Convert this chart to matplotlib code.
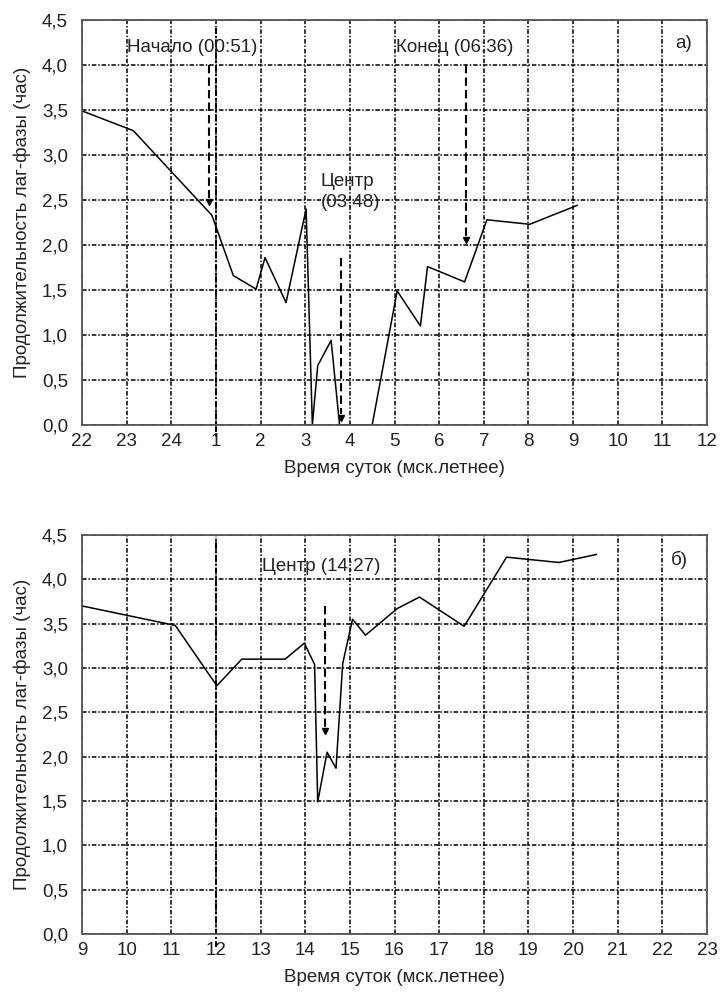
import matplotlib
matplotlib.use("Agg")
import matplotlib.pyplot as plt
from matplotlib.ticker import FixedLocator, FixedFormatter

plt.rcParams['font.family'] = ['Liberation Sans', 'DejaVu Sans']

# ---- data: panel a) (hours continuous from 22 to 36 = 12 next day)
a_hours = [22.0, 23.15, 24.91, 25.39, 25.9, 26.1, 26.57, 27.02, 27.16, 27.28,
           27.58, 27.77, 28.5, 29.06, 29.58, 29.74, 30.57, 31.07, 32.03, 33.09]
a_vals = [3.49, 3.27, 2.33, 1.66, 1.51, 1.86, 1.36, 2.40, 0.0, 0.66,
          0.94, 0.0, 0.0, 1.49, 1.10, 1.76, 1.59, 2.28, 2.23, 2.44]
a_tick_pos = list(range(22, 37))
a_tick_labels = ['22', '23', '24', '1', '2', '3', '4', '5', '6', '7', '8', '9', '10', '11', '12']

# ---- data: panel б)
b_hours = [9.0, 11.09, 12.02, 12.58, 13.55, 13.98, 14.21, 14.28, 14.49, 14.69,
           14.84, 15.06, 15.35, 16.06, 16.56, 17.56, 18.51, 19.68, 20.52]
b_vals = [3.70, 3.48, 2.80, 3.10, 3.10, 3.28, 3.04, 1.49, 2.05, 1.87,
          3.05, 3.55, 3.37, 3.67, 3.80, 3.47, 4.25, 4.19, 4.28]
b_tick_pos = list(range(9, 24))
b_tick_labels = [str(h) for h in range(9, 24)]

y_ticks = [0.0, 0.5, 1.0, 1.5, 2.0, 2.5, 3.0, 3.5, 4.0, 4.5]
y_tick_labels = ['0,0', '0,5', '1,0', '1,5', '2,0', '2,5', '3,0', '3,5', '4,0', '4,5']

# annotations: (hour, y_start, y_end)
a_arrows = [(24.85, 4.0, 2.48), (27.8, 1.86, 0.08), (30.6, 4.0, 2.06)]
b_arrows = [(14.45, 3.70, 2.29)]

xlabel = 'Время суток (мск.летнее)'
ylabel = 'Продолжительность лаг-фазы (час)'

W, H = 720, 996
fig = plt.figure(figsize=(W / 100, H / 100), dpi=100)
ax1 = fig.add_axes([82 / W, (H - 425) / H, 625 / W, 405 / H])
ax2 = fig.add_axes([82 / W, (H - 934) / H, 625 / W, 399 / H])

grid_ls = (0, (3, 1.2, 1, 1.2))
grid_style = dict(color='black', linewidth=1.1, linestyle=grid_ls)
fs = 13.5
tc = '#222222'


def style(ax, xpos, xlabels, x0, x1):
    ax.set_xlim(x0, x1)
    ax.set_ylim(0, 4.5)
    ax.xaxis.set_major_locator(FixedLocator(xpos))
    ax.xaxis.set_major_formatter(FixedFormatter(xlabels))
    ax.yaxis.set_major_locator(FixedLocator(y_ticks))
    ax.yaxis.set_major_formatter(FixedFormatter(y_tick_labels))
    ax.tick_params(length=0, labelsize=fs, colors=tc)
    ax.tick_params(axis='y', pad=10)
    ax.tick_params(axis='x', pad=6)
    ax.grid(True, **grid_style)
    ax.set_axisbelow(True)
    for s in ax.spines.values():
        s.set_color('#555555')
        s.set_linewidth(1.3)
    ax.set_xlabel(xlabel, fontsize=fs, color=tc, labelpad=7)
    ax.set_ylabel(ylabel, fontsize=fs, color=tc, labelpad=8)


def arrows(ax, arr):
    for x, y0, y1 in arr:
        ax.plot([x, x], [y0, y1 + 0.04], color='black', lw=1.5, linestyle=(0, (4, 2)))
        ax.plot([x], [y1], marker='v', color='black', markersize=4.5)


style(ax1, a_tick_pos, a_tick_labels, 22, 36)
ax1.plot([25, 25], [4.41, -0.13], color='black', lw=1.4, linestyle=grid_ls, clip_on=False)
ax1.plot(a_hours, a_vals, color='black', lw=1.1, clip_on=True)
arrows(ax1, a_arrows)
ax1.text(23.0, 4.20, 'Начало (00:51)', fontsize=fs, va='center', ha='left', color=tc)
ax1.text(27.35, 2.59, 'Центр\n(03:48)', fontsize=fs, va='center', ha='left', color=tc,
         linespacing=1.3)
ax1.text(29.04, 4.19, 'Конец (06:36)', fontsize=fs, va='center', ha='left', color=tc)
ax1.text(35.3, 4.24, 'а)', fontsize=fs, va='center', ha='left', color=tc)

style(ax2, b_tick_pos, b_tick_labels, 9, 23)
ax2.plot([12, 12], [4.41, -0.15], color='black', lw=1.4, linestyle=grid_ls, clip_on=False)
ax2.plot(b_hours, b_vals, color='black', lw=1.1)
arrows(ax2, b_arrows)
ax2.text(13.03, 4.14, 'Центр (14:27)', fontsize=fs, va='center', ha='left', color=tc)
ax2.text(22.2, 4.22, 'б)', fontsize=fs, va='center', ha='left', color=tc)

fig.savefig('out.png', dpi=100)
